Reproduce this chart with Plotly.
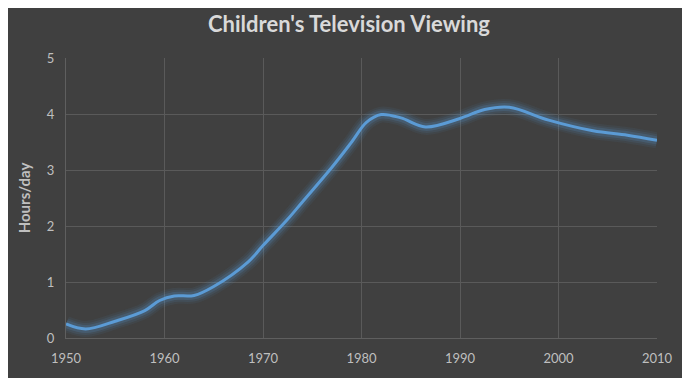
import plotly.graph_objects as go

years = [1950, 1952, 1955, 1958, 1959.5, 1961, 1963, 1965, 1968.5, 1970, 1972.5, 1974, 1977, 1979, 1980.5, 1982, 1984, 1986.5, 1990, 1992.5, 1995, 1999, 2003.5, 2007, 2010]
hours = [0.25, 0.16, 0.30, 0.49, 0.67, 0.75, 0.76, 0.92, 1.36, 1.65, 2.12, 2.43, 3.05, 3.50, 3.85, 3.99, 3.93, 3.77, 3.92, 4.08, 4.12, 3.89, 3.70, 3.62, 3.53]

x_ticks = [1950, 1960, 1970, 1980, 1990, 2000, 2010]
y_ticks = [0, 1, 2, 3, 4, 5]

fig = go.Figure()
# glow layers
for w, a in [(16, 0.07), (12, 0.10), (8, 0.18)]:
    fig.add_trace(go.Scatter(x=years, y=hours, mode="lines", line=dict(color=f"rgba(91,155,213,{a})", width=w, shape="spline", smoothing=1.0), hoverinfo="skip", showlegend=False))
fig.add_trace(go.Scatter(x=years, y=hours, mode="lines", line=dict(color="#5b9bd5", width=3, shape="spline", smoothing=1.0), showlegend=False))

fig.update_layout(
    width=682, height=370,
    paper_bgcolor="#404040", plot_bgcolor="#404040",
    margin=dict(l=58, r=33, t=50, b=37),
    title=dict(text="<b>Children's Television Viewing</b>", x=0.5, xanchor="center", y=0.955, yanchor="middle",
               font=dict(family="Lato, Open Sans, sans-serif", size=22, color="#d9d9d9")),
    font=dict(family="Lato, Open Sans, sans-serif", color="#bfbfbf"),
)
fig.update_xaxes(range=[1950, 2010], tickvals=x_ticks, showgrid=True, gridcolor="#5a5a5a", gridwidth=1,
                 showline=True, linecolor="#5f5f5f", zeroline=False, ticks="", ticklabelstandoff=8,
                 tickfont=dict(size=13, color="#bfbfbf"))
fig.update_yaxes(range=[0, 5], tickvals=y_ticks, showgrid=True, gridcolor="#5a5a5a", gridwidth=1,
                 showline=True, linecolor="#5f5f5f", zeroline=False, ticks="", ticklabelstandoff=8,
                 tickfont=dict(size=13, color="#bfbfbf"),
                 title=dict(text="<b>Hours/day</b>", font=dict(size=15, color="#bfbfbf"), standoff=12))

fig.write_html("out.html")
